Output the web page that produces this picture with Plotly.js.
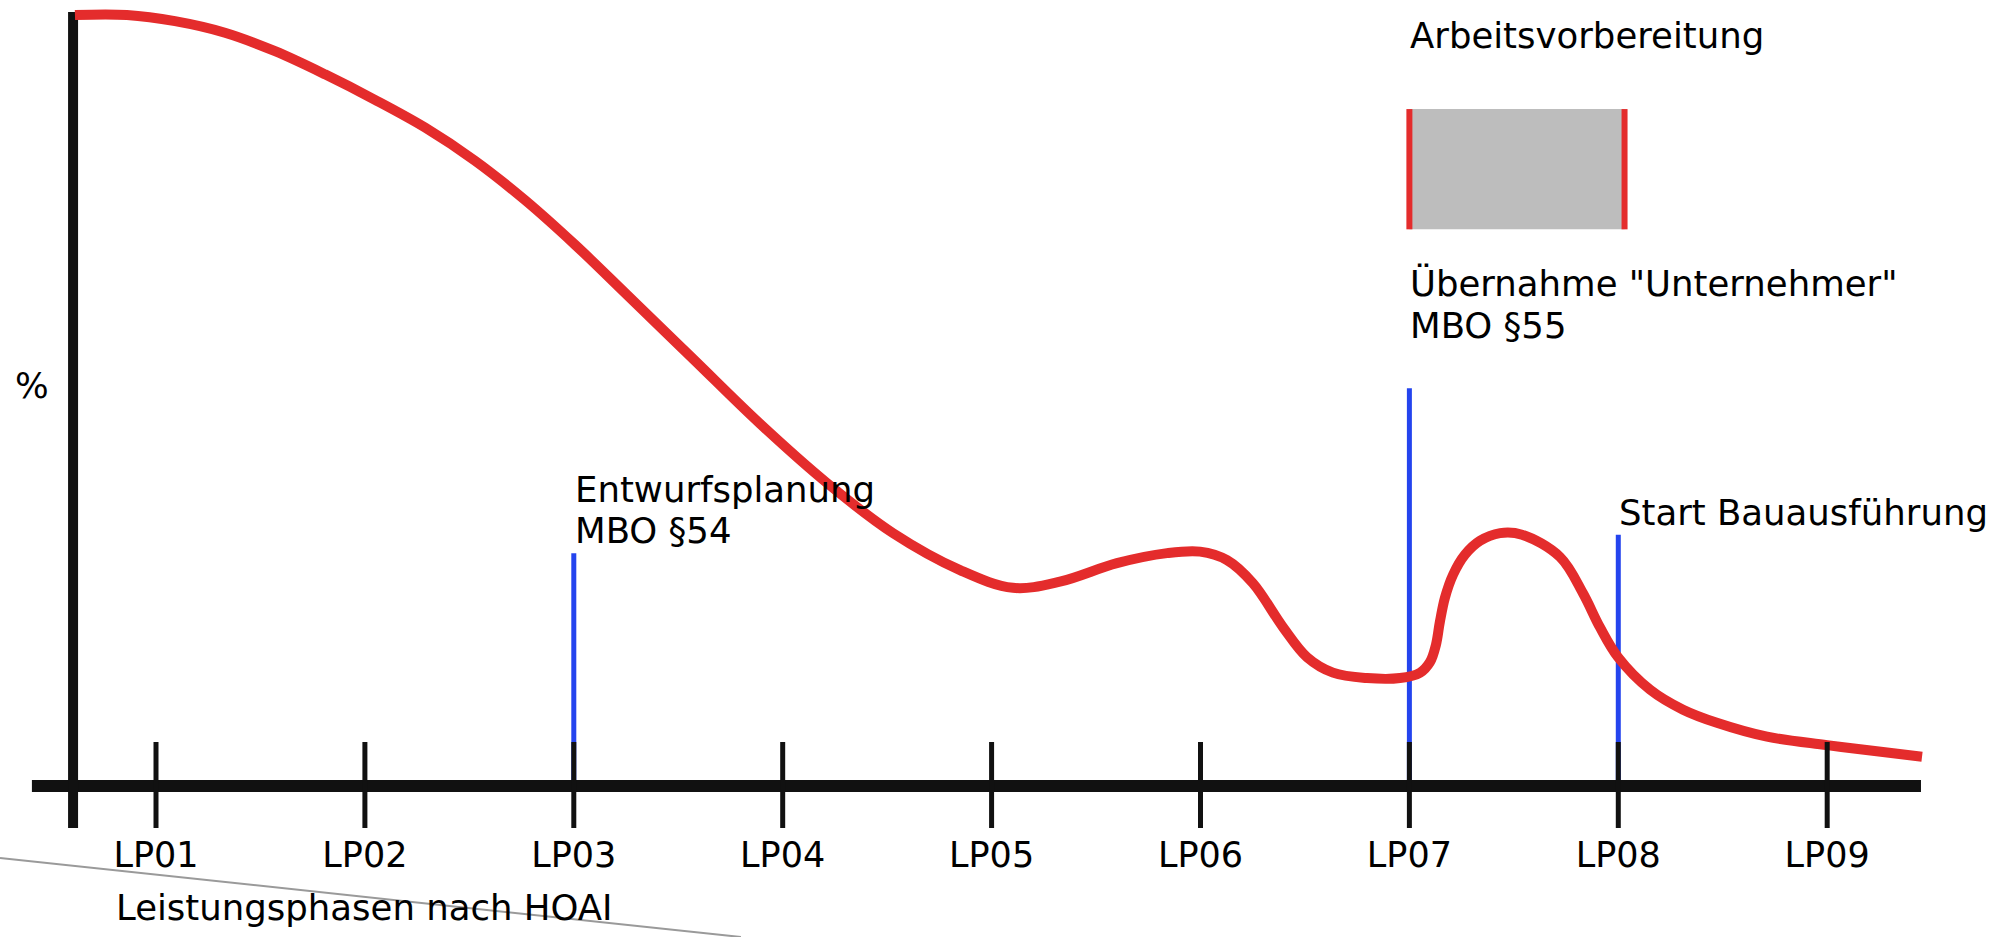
<!DOCTYPE html>
<html>
<head>
<meta charset="utf-8">
<script src="https://cdn.plot.ly/plotly-3.0.1.min.js"></script>
<style>
  html, body { margin: 0; padding: 0; background: #ffffff; }
  #chart { width: 1997px; height: 937px; }
</style>
</head>
<body>
<div id="chart"></div>
<script>
// ---- data (x in Leistungsphase units, y in % of max) ----
const phaseValues = [1, 2, 3, 4, 5, 6, 7, 8, 9];
const phaseLabels = ["LP01", "LP02", "LP03", "LP04", "LP05", "LP06", "LP07", "LP08", "LP09"];

const curveX = [0.612, 0.861, 1.091, 1.330, 1.570, 1.809, 2.048, 2.288, 2.527, 2.766, 3.006,
  3.255, 3.571, 3.891, 4.212, 4.528, 4.849, 5.102, 5.327, 5.600, 5.840, 5.998, 6.127, 6.251,
  6.395, 6.510, 6.634, 6.797, 6.955, 7.051, 7.099, 7.127, 7.146, 7.170, 7.209, 7.266, 7.338,
  7.434, 7.539, 7.721, 7.831, 7.912, 7.999, 8.152, 8.310, 8.472, 8.712, 8.999, 9.267, 9.454];
const curveY = [100.0, 100.0, 99.2, 97.7, 95.3, 92.3, 89.0, 85.4, 81.1, 76.0, 70.2,
  63.7, 55.4, 47.0, 39.3, 32.8, 28.0, 25.7, 26.5, 28.9, 30.2, 30.4, 29.3, 26.3,
  20.6, 16.7, 14.7, 14.0, 14.0, 14.7, 16.1, 18.3, 21.3, 24.4, 27.4, 30.0, 31.8,
  32.8, 32.6, 29.7, 25.0, 20.6, 16.7, 12.5, 9.9, 8.2, 6.4, 5.3, 4.4, 3.8];

const milestoneX = [3, 7, 8];
const milestoneTop = [30.2, 51.6, 32.6];
const milestoneLabels = [
  ["Entwurfsplanung", "MBO §54"],
  ["Übernahme \"Unternehmer\"", "MBO §55"],
  ["Start Bauausführung"]
];

const prepLabel = "Arbeitsvorbereitung";
const prepStart = 7.0;
const prepEnd = 8.03;
const prepLow = 72.2;
const prepHigh = 87.8;

const xAxisTitle = "Leistungsphasen nach HOAI";
const yAxisTitle = "%";

// ---- geometry / styles ----
const X_AXIS_FROM = 0.406, X_AXIS_TO = 9.449;
const Y_AXIS_AT = 0.603, Y_AXIS_FROM = -5.45, Y_AXIS_TO = 100.39;
const TICK_DOWN = -5.45, TICK_UP = 5.71;
const FONT = "DejaVu Sans, Verdana, sans-serif";
const RED = "#e42c2c", BLUE = "#2444ee", BLACK = "#111111";

const traces = [];

// blue milestone lines
(function () {
  const xs = [], ys = [];
  milestoneX.forEach((x, i) => { xs.push(x, x, null); ys.push(0, milestoneTop[i], null); });
  traces.push({ x: xs, y: ys, mode: "lines", line: { color: BLUE, width: 5 }, hoverinfo: "skip" });
})();

// Arbeitsvorbereitung block
traces.push({
  x: [prepStart, prepEnd, prepEnd, prepStart, prepStart],
  y: [prepLow, prepLow, prepHigh, prepHigh, prepLow],
  mode: "lines", fill: "toself", fillcolor: "#bdbdbd", line: { width: 0, color: "#bdbdbd" }, hoverinfo: "skip"
});
traces.push({
  x: [prepStart, prepStart, null, prepEnd, prepEnd],
  y: [prepLow, prepHigh, null, prepLow, prepHigh],
  mode: "lines", line: { color: RED, width: 6 }, hoverinfo: "skip"
});

// axes drawn as heavy lines
traces.push({ x: [X_AXIS_FROM, X_AXIS_TO], y: [0, 0], mode: "lines", line: { color: BLACK, width: 12 }, hoverinfo: "skip" });
traces.push({ x: [Y_AXIS_AT, Y_AXIS_AT], y: [Y_AXIS_FROM, Y_AXIS_TO], mode: "lines", line: { color: BLACK, width: 10 }, hoverinfo: "skip" });

// red curve
traces.push({
  x: curveX, y: curveY, mode: "lines",
  line: { color: RED, width: 10, shape: "spline", smoothing: 1, simplify: false }, hoverinfo: "skip"
});

// tick marks crossing the axis
(function () {
  const xs = [], ys = [];
  phaseValues.forEach(v => { xs.push(v, v, null); ys.push(TICK_DOWN, TICK_UP, null); });
  traces.push({ x: xs, y: ys, mode: "lines", line: { color: BLACK, width: 5 }, hoverinfo: "skip" });
})();

const ann = [];
const txt = (text, x, y, xanchor) => ({
  text: text, x: x, y: y, xref: "x", yref: "y", xanchor: xanchor || "left", yanchor: "middle",
  showarrow: false, font: { family: FONT, size: 35.5, color: "#000" }, borderpad: 0
});
ann.push(txt(milestoneLabels[0][0], milestoneX[0], 38.4));
ann.push(txt(milestoneLabels[0][1], milestoneX[0], 33.2));
ann.push(txt(milestoneLabels[1][0], milestoneX[1], 65.2));
ann.push(txt(milestoneLabels[1][1], milestoneX[1], 59.7));
ann.push(txt(milestoneLabels[2][0], milestoneX[2], 35.5));
ann.push(txt(prepLabel, prepStart, 97.4));
ann.push(txt(xAxisTitle, 0.804, -15.8));
ann.push(txt(yAxisTitle, 0.406, 51.9, "center"));

const layout = {
  width: 1997, height: 937,
  margin: { l: 0, r: 0, t: 0, b: 0, pad: 0 },
  paper_bgcolor: "#ffffff", plot_bgcolor: "#ffffff",
  showlegend: false,
  font: { family: FONT, color: "#000" },
  xaxis: {
    domain: [0, 1], range: [0.25323, 9.8129], anchor: "free", position: 0.16115,
    showgrid: false, zeroline: false, showline: false, ticks: "",
    tickmode: "array", tickvals: phaseValues, ticktext: phaseLabels,
    tickfont: { family: FONT, size: 35, color: "#000" }, ticklabelstandoff: 45
  },
  yaxis: {
    domain: [0, 1], range: [-19.585, 101.946],
    showgrid: false, zeroline: false, showline: false, ticks: "", showticklabels: false
  },
  annotations: ann,
  shapes: [{
    type: "line", xref: "paper", yref: "paper", x0: 0, y0: 0.0843, x1: 0.371, y1: 0,
    line: { color: "#9a9a9a", width: 2 }, layer: "below"
  }]
};

Plotly.newPlot("chart", traces, layout, { staticPlot: true, displayModeBar: false });
</script>
</body>
</html>
